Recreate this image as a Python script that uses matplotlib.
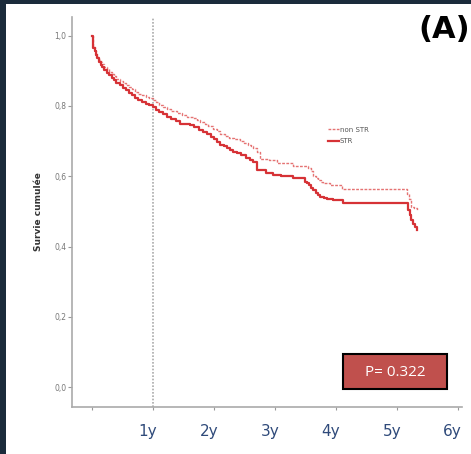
import matplotlib
matplotlib.use("Agg")
import matplotlib.pyplot as plt
import matplotlib.transforms as mtransforms
from matplotlib.patches import Rectangle

# temps (années) et survie cumulée
t_str = [0.0, 0.01, 0.02, 0.04, 0.06, 0.08, 0.11, 0.14, 0.17, 0.2, 0.24, 0.28, 0.32,
         0.36, 0.4, 0.45, 0.5, 0.55, 0.6, 0.65, 0.7, 0.76, 0.82, 0.88, 0.94, 1.0,
         1.05, 1.1, 1.16, 1.23, 1.3, 1.37, 1.44, 1.6, 1.68, 1.75, 1.82, 1.88, 1.95,
         2.0, 2.05, 2.1, 2.16, 2.22, 2.27, 2.31, 2.38, 2.45, 2.52, 2.59, 2.64,
         2.7, 2.85, 2.97, 3.1, 3.3, 3.49, 3.53, 3.56, 3.6, 3.63, 3.67, 3.7, 3.74,
         3.8, 3.85, 3.95, 4.12, 5.18, 5.21, 5.24, 5.26, 5.3, 5.33]
s_str = [1.0, 0.98, 0.965, 0.955, 0.945, 0.935, 0.925, 0.917, 0.91, 0.902, 0.895, 0.888, 0.88,
         0.873, 0.866, 0.86, 0.852, 0.845, 0.837, 0.83, 0.823, 0.817, 0.812, 0.807, 0.803, 0.797,
         0.789, 0.782, 0.776, 0.77, 0.763, 0.756, 0.75, 0.745, 0.74, 0.733, 0.726, 0.72, 0.713,
         0.706, 0.698, 0.69, 0.685, 0.68, 0.675, 0.67, 0.665, 0.66, 0.653, 0.647, 0.64,
         0.618, 0.61, 0.604, 0.6, 0.595, 0.585, 0.58, 0.575, 0.567, 0.56, 0.553, 0.547, 0.54,
         0.537, 0.535, 0.533, 0.525, 0.505, 0.49, 0.476, 0.465, 0.455, 0.447]

t_non = [0.0, 0.01, 0.02, 0.04, 0.06, 0.08, 0.11, 0.14, 0.17, 0.2, 0.24, 0.28, 0.32,
         0.36, 0.4, 0.45, 0.5, 0.55, 0.6, 0.65, 0.7, 0.76, 0.82, 0.88, 0.94, 1.0,
         1.05, 1.1, 1.17, 1.23, 1.3, 1.4, 1.48, 1.55, 1.65, 1.72, 1.77, 1.85, 1.9, 1.98,
         2.05, 2.1, 2.18, 2.25, 2.33, 2.43, 2.5, 2.55, 2.6, 2.64, 2.7, 2.75,
         2.9, 3.03, 3.3, 3.55, 3.6, 3.63, 3.67, 3.7, 3.75, 3.79, 3.9, 4.1,
         5.16, 5.2, 5.24, 5.28, 5.33]
s_non = [1.0, 0.98, 0.967, 0.957, 0.948, 0.94, 0.932, 0.925, 0.918, 0.911, 0.904, 0.897, 0.89,
         0.884, 0.878, 0.872, 0.866, 0.86, 0.853, 0.847, 0.841, 0.835, 0.83, 0.826, 0.822, 0.817,
         0.81, 0.803, 0.797, 0.79, 0.785, 0.78, 0.775, 0.77, 0.765, 0.76, 0.755, 0.748, 0.742, 0.735,
         0.728, 0.72, 0.715, 0.71, 0.705, 0.70, 0.695, 0.69, 0.685, 0.68, 0.67, 0.65,
         0.645, 0.637, 0.63, 0.623, 0.615, 0.60, 0.595, 0.59, 0.585, 0.58, 0.575, 0.563,
         0.55, 0.535, 0.514, 0.51, 0.505]

y_ticks = [0.0, 0.2, 0.4, 0.6, 0.8, 1.0]
y_labels = ["0,0", "0,2", "0,4", "0,6", "0,8", "1,0"]
x_ticks = [0, 1, 2, 3, 4, 5, 6]
x_labels = ["", "1y", "2y", "3y", "4y", "5y", "6y"]
p_text = "P= 0.322"

fig = plt.figure(figsize=(4.71, 4.54), dpi=100)
fig.patch.set_facecolor("white")
W, H = 471, 454
# cadre sombre à gauche et en haut
fig.patches.append(Rectangle((0, 0), 6 / W, 1, transform=fig.transFigure,
                             facecolor="#1b2b3b", edgecolor="none", zorder=0))
fig.patches.append(Rectangle((0, 1 - 4 / H), 1, 4 / H, transform=fig.transFigure,
                             facecolor="#1b2b3b", edgecolor="none", zorder=0))

ax = fig.add_axes([72 / W, 1 - 407 / H, 390 / W, 390 / H])
ax.set_facecolor("none")
ax.set_xlim(-0.33, 6.07)
ax.set_ylim(-0.056, 1.053)

ax.step(t_non, s_non, where="post", color="#e57373", lw=1.0, ls=(0, (2, 1)), label="non STR")
ax.step(t_str, s_str, where="post", color="#d63236", lw=1.6, label="STR")

ax.axvline(1, color="#aaaaaa", lw=1.2, ls=(0, (1, 1)), zorder=1)

for s in ["top", "right"]:
    ax.spines[s].set_visible(False)
for s in ["left", "bottom"]:
    ax.spines[s].set_color("#aaaaaa")
    ax.spines[s].set_linewidth(1.2)

ax.set_yticks(y_ticks)
ax.set_yticklabels(y_labels, fontsize=5.5, color="#777777")
ax.tick_params(axis="y", length=3, width=0.8, color="#999999", pad=1)
ax.set_xticks(x_ticks)
ax.set_xticklabels(x_labels, fontsize=11, color="#2f4a7a")
ax.tick_params(axis="x", length=2, width=0.8, color="#999999", pad=10)
offset = mtransforms.ScaledTranslation(-5 / 100, 0, fig.dpi_scale_trans)
for lbl in ax.get_xticklabels():
    lbl.set_transform(lbl.get_transform() + offset)

ax.set_ylabel("Survie cumulée", fontsize=6.5, fontweight="bold", color="#333333", labelpad=8)

leg = ax.legend(loc="upper left", bbox_to_anchor=(0.64, 0.735), fontsize=5, frameon=False,
                handlelength=1.6, handletextpad=0.1, labelspacing=0.8)
for txt in leg.get_texts():
    txt.set_color("#555555")

fig.text(444 / W, 1 - 30 / H, "(A)", fontsize=22, fontweight="bold", color="black",
         ha="center", va="center")

ax.add_patch(Rectangle((343 / W, 1 - 389 / H), 104 / W, 35 / H, transform=fig.transFigure,
                       facecolor="#c0504d", edgecolor="black", lw=1.5, zorder=5, clip_on=False))
fig.text(395 / W, 1 - 372 / H, p_text, fontsize=11, color="white", ha="center", va="center",
         family="Open Sans", zorder=6)

fig.savefig("out.png", dpi=100, facecolor=fig.get_facecolor())
